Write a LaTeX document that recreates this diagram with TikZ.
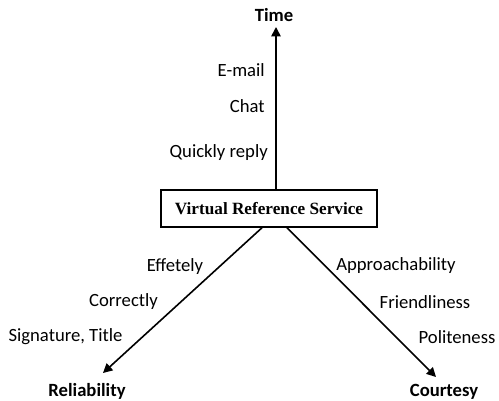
\documentclass[tikz,border=0pt]{standalone}
\usepackage{fontspec}
\setmainfont{Carlito}
\newfontfamily\boxfont{Liberation Serif}
\usetikzlibrary{arrows.meta}

\begin{document}
\begin{tikzpicture}[
    x=0.75pt, y=-0.75pt,
    lbl/.style={inner sep=0pt, font=\fontsize{14}{16}\selectfont},
    axis/.style={inner sep=0pt, font=\fontsize{14}{16}\selectfont\bfseries},
    box/.style={rectangle, draw, line width=1.1pt, minimum width=162pt, minimum height=27.75pt, align=center, font=\boxfont\fontsize{12.9}{15}\selectfont\bfseries},
    arr/.style={-{Triangle[length=7pt, width=7pt]}, line width=1.2pt},
  ]
    \useasboundingbox (0,0) rectangle (499,400);
    \node[box] (vrs) at (269,208.5) {Virtual Reference Service};
    % axis ends
    \coordinate (tipTime) at (276,27);
    \coordinate (tipRel) at (103,373);
    \coordinate (tipCour) at (436,377);
    \node[axis] (time) at (274,15) {Time};
    \node[axis] (rel) at (87,391) {Reliability};
    \node[axis] (cour) at (444,392) {Courtesy};
    % time labels
    \node[lbl, anchor=east] (email) at (265,70) {E-mail};
    \node[lbl, anchor=east] (chat) at (265,106) {Chat};
    \node[lbl, anchor=east] (quick) at (268,153) {Quickly reply};
    % reliability labels
    \node[lbl] (effet) at (175,267) {Effetely};
    \node[lbl] (correct) at (123.5,302) {Correctly};
    \node[lbl] (sign) at (65.5,337) {Signature, Title};
    % courtesy labels
    \node[lbl] (approach) at (396,266) {Approachability};
    \node[lbl] (friend) at (425,302) {Friendliness};
    \node[lbl] (polite) at (457,337) {Politeness};
    \draw[arr] ([xshift=5.25pt]vrs.north) -- (tipTime);
    \draw[arr] ([xshift=-5.25pt]vrs.south) -- (tipRel);
    \draw[arr] ([xshift=13.5pt]vrs.south) -- (tipCour);
  \end{tikzpicture}
\end{document}
